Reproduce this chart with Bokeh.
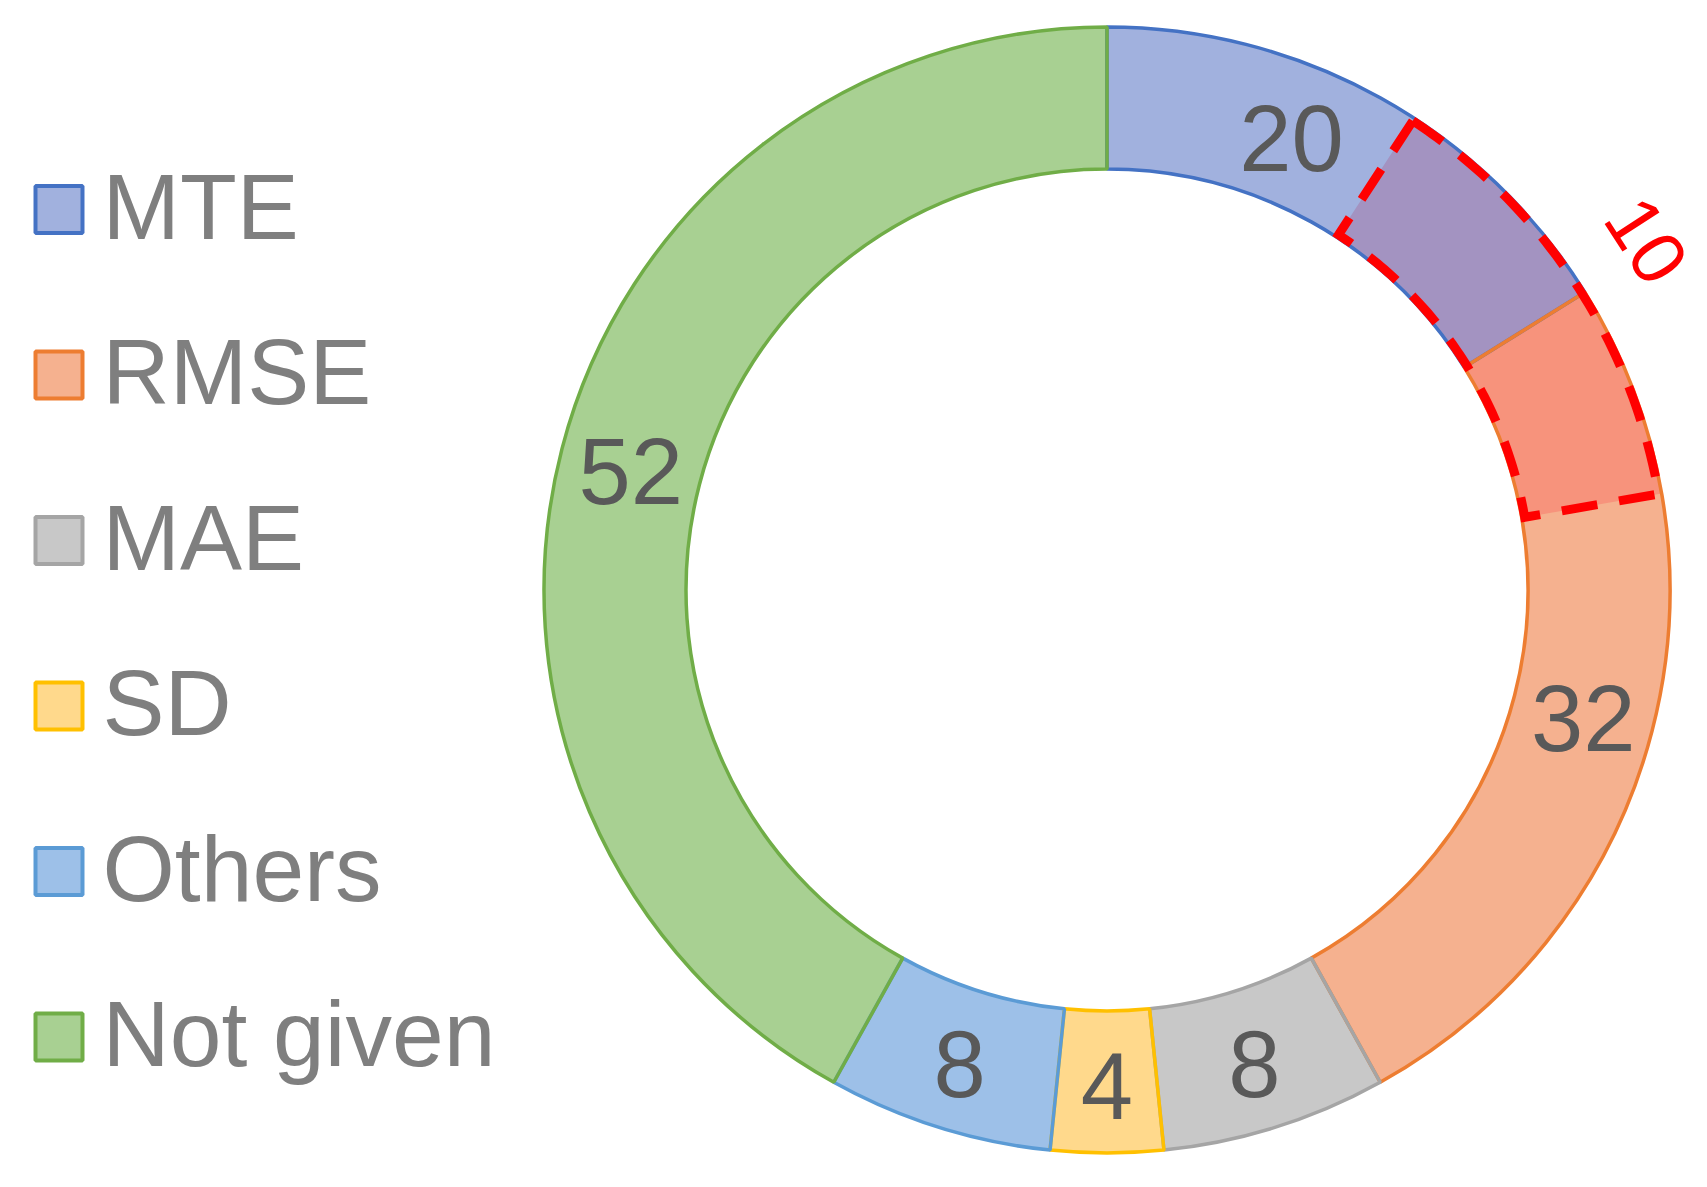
import numpy as np
from bokeh.plotting import figure
from bokeh.models import Range1d
from bokeh.embed import file_html
from bokeh.resources import INLINE
from bokeh.core.properties import value

# ---------------- data ----------------
categories = ["MTE", "RMSE", "MAE", "SD", "Others", "Not given"]
counts = [20, 32, 8, 4, 8, 52]
fill_colors = ["#A1B1DE", "#F5B18F", "#C8C8C8", "#FFD98C", "#9DC0E8", "#A8D092"]
line_colors = ["#4472C4", "#ED7D31", "#A5A5A5", "#FFC000", "#5B9BD5", "#70AD47"]
overlap_label = "10"            # papers reporting both MTE and RMSE
overlap_span = [11.4, 27.6]     # highlighted extent, in cumulative count units

# ---------------- geometry ----------------
W, H = 1707, 1187
cx, cy = 1106.5, H - 589.5
r_in, r_out = 421.0, 563.0
r_lab = 492.0
FONT = "Liberation Sans"

total = float(sum(counts))
cum = np.concatenate([[0.0], np.cumsum(counts)])
theta = cum / total * 2 * np.pi          # clockwise from top
ang = np.pi / 2 - theta                   # bokeh angle

p = figure(width=W, height=H, x_range=Range1d(0, W), y_range=Range1d(0, H),
           output_backend="svg", toolbar_location=None, min_border=0)
p.axis.visible = False
p.grid.visible = False
p.outline_line_color = None
p.background_fill_color = "white"
p.border_fill_color = "white"

# slice fills
p.annular_wedge(x=cx, y=cy, inner_radius=r_in, outer_radius=r_out,
                start_angle=list(ang[:-1]), end_angle=list(ang[1:]), direction="clock",
                fill_color=fill_colors, line_color=None)

# highlighted overlap (multiply-style tint on each slice part)
tint = (1.01, 0.83, 0.87)
def mult(hexc):
    h = hexc.lstrip("#")
    rgb = [int(h[i:i + 2], 16) for i in (0, 2, 4)]
    return "#%02X%02X%02X" % tuple(min(255, int(round(c * t))) for c, t in zip(rgb, tint))

o_s, o_e, o_c = [], [], []
for i in range(len(counts)):
    a = max(cum[i], overlap_span[0])
    b = min(cum[i + 1], overlap_span[1])
    if b > a:
        o_s.append(np.pi / 2 - a / total * 2 * np.pi)
        o_e.append(np.pi / 2 - b / total * 2 * np.pi)
        o_c.append(mult(fill_colors[i]))
p.annular_wedge(x=cx, y=cy, inner_radius=r_in, outer_radius=r_out,
                start_angle=o_s, end_angle=o_e, direction="clock",
                fill_color=o_c, line_color=None)

# slice outlines
p.annular_wedge(x=cx, y=cy, inner_radius=r_in, outer_radius=r_out,
                start_angle=list(ang[:-1]), end_angle=list(ang[1:]), direction="clock",
                fill_color=None, line_color=line_colors, line_width=3.5)

# dashed outline of highlight
t0 = overlap_span[0] / total * 2 * np.pi
t1 = overlap_span[1] / total * 2 * np.pi
ts = np.linspace(t0, t1, 80)
ro, ri = r_out - 3, r_in + 3
xs = list(cx + ro * np.sin(ts)) + list(cx + ri * np.sin(ts[::-1])) + [cx + ro * np.sin(t0)]
ys = list(cy + ro * np.cos(ts)) + list(cy + ri * np.cos(ts[::-1])) + [cy + ro * np.cos(t0)]
p.line(xs, ys, line_color="#FF0000", line_width=9, line_dash="36 22", line_join="miter")

# overlap label, tangent to ring
tb = theta[1] - np.radians(1.0)
r10 = 643
p.text(x=[cx + r10 * np.sin(tb)], y=[cy + r10 * np.cos(tb)], text=[overlap_label],
       angle=-tb, text_align="center", text_baseline="middle",
       text_font=value(FONT), text_font_size="76px", text_color="#FF0000")

# value labels
fs_num = 94
mid = (theta[:-1] + theta[1:]) / 2
shift = np.zeros(len(counts))
shift[0] = -np.radians(7.0)   # MTE label moved off the highlight
lab_t = mid + shift
half_cap = 0.358 * fs_num
adj = 0.34 * fs_num - 3
p.text(x=list(cx + r_lab * np.sin(lab_t)), y=list(cy + r_lab * np.cos(lab_t) - half_cap + adj),
       text=[str(c) for c in counts], text_align="center", text_baseline="alphabetic",
       text_font=value(FONT), text_font_size=f"{fs_num}px", text_color="#595959")

# legend
row0 = H - 209
step = 165.5
lx = 58.5
ly = [row0 - step * i for i in range(len(categories))]
p.rect(x=[lx] * len(categories), y=ly, width=47, height=47,
       fill_color=fill_colors, line_color=line_colors, line_width=4)
p.text(x=[102] * len(categories), y=[v - 31 + 34 for v in ly], text=categories,
       text_align="left", text_baseline="alphabetic",
       text_font=value(FONT), text_font_size="93px", text_color="#7F7F7F")

open("out.html", "w").write(file_html(p, INLINE))
